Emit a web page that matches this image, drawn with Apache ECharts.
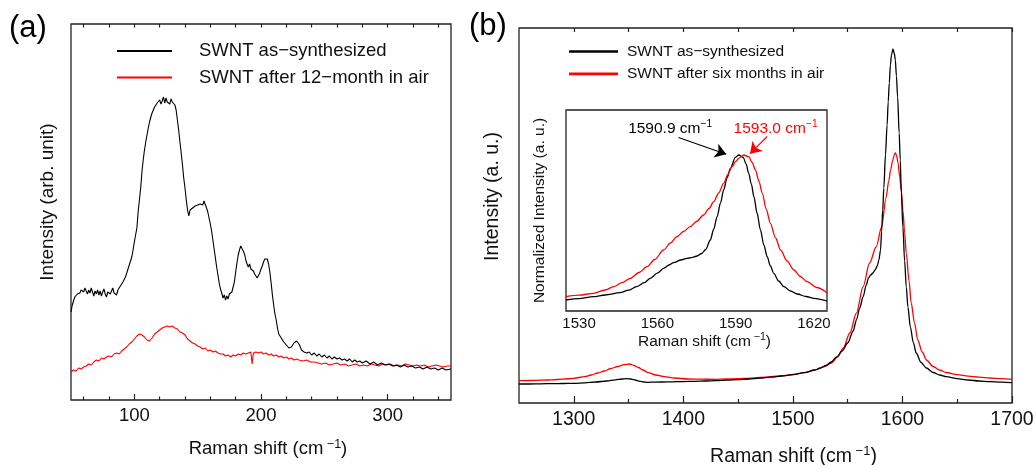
<!DOCTYPE html>
<html><head><meta charset="utf-8">
<script src="https://cdn.jsdelivr.net/npm/echarts@6/dist/echarts.min.js"></script>
<style>html,body{margin:0;padding:0;background:#fff}#c{width:1036px;height:465px}</style>
</head><body><div id="c"></div>
<script>
// ---------------- data ----------------
// Panel (a): RBM region
const aTickMajor = [100, 200, 300];
const aTickMinor = [60, 80, 120, 140, 160, 180, 220, 240, 260, 280, 320, 340];
const aNames = ['SWNT as\u2212synthesized', 'SWNT after 12\u2212month in air'];
const aBlack = [[50,88],[51,95],[52,99],[53,103],[54,104],[55,106],[56,108],[57,107],[58,110],[59,111],[60,108],[61,112],[62,109],[63,106],[64,110],[65,107],[66,112],[67,108],[68,104],[69,109],[70,106],[71,110],[72,105],[73,109],[74,104],[75,108],[76,111],[77,106],[78,103],[79,108],[80,110],[81,106],[82,109],[83,112],[84,107],[85,109],[86,105],[87,110],[88,112],[89,114],[90,116],[91,118],[92,120],[93,123],[94,127],[95,131],[96,135],[97,139],[98,143],[99,150],[100,158],[101,165],[102,172],[103,188],[104,200],[105,212],[106,228],[107,240],[108,250],[109,258],[110,265],[111,272],[112,278],[113,283],[114,287],[115,290],[116,293],[117,294],[118,297],[119,295],[120,300],[121,296],[122,299],[123,303],[124,297],[125,302],[126,298],[127,300],[128,296],[129,301],[130,298],[131,299],[132,295],[133,290],[134,280],[135,270],[136,258],[137,247],[138,235],[139,222],[140,212],[141,200],[142,190],[143,184],[144,190],[145,188],[146,192],[147,190],[148,194],[149,192],[150,195],[151,193],[152,196],[153,198],[154,195],[155,199],[156,197],[157,192],[158,188],[159,182],[160,176],[161,169],[162,160],[163,151],[164,142],[165,133],[166,125],[167,117],[168,111],[169,107],[170,102],[171,105],[172,100],[173,104],[174,101],[175,106],[176,104],[177,108],[178,110],[179,118],[180,128],[181,137],[182,145],[183,150],[184,154],[185,152],[186,149],[187,146],[188,140],[189,136],[190,133],[191,136],[192,131],[193,133],[194,129],[195,126],[196,127],[197,122],[198,124],[199,127],[200,131],[201,134],[202,138],[203,141],[204,143],[205,141],[206,136],[207,128],[208,117],[209,105],[210,95],[211,86],[212,80],[213,72],[214,66],[215,64],[216,62],[217,60],[218,58],[219,56],[220,55],[221,53],[222,52],[223,54],[224,53],[225,55],[226,57],[227,58],[228,59],[229,58],[230,56],[231,53],[232,50],[233,49],[234,48],[235,49],[236,47],[238,48],[240,45],[242,47],[244,44],[246,46],[248,43],[250,45],[252,42],[254,44],[256,41],[258,43],[260,41],[262,42],[264,40],[266,41],[268,39],[270,41],[272,38],[274,40],[276,38],[278,39],[280,37],[283,39],[286,36],[289,38],[292,35],[295,37],[298,35],[301,36],[304,34],[307,35],[310,33],[313,35],[316,33],[319,34],[322,32],[325,33],[328,31],[331,33],[334,31],[337,32],[340,30],[343,32],[346,30],[350,31]];
const aRed = [[50,28],[52,30],[54,29],[56,32],[58,31],[60,33],[62,34],[64,36],[66,35],[68,38],[70,40],[72,39],[74,42],[76,41],[78,43],[80,44],[82,43],[84,46],[86,47],[88,46],[90,49],[92,51],[94,53],[96,56],[98,58],[100,61],[102,64],[104,66],[106,65],[108,63],[110,60],[112,59],[114,62],[116,66],[118,68],[120,70],[122,72],[124,73],[126,74],[128,73],[130,74],[132,72],[134,71],[136,68],[138,67],[140,65],[142,61],[144,59],[146,57],[148,56],[150,54],[152,53],[154,51],[156,52],[158,49],[160,50],[162,48],[164,49],[166,47],[168,46],[170,46],[172,44],[174,45],[176,43],[178,45],[180,44],[182,46],[184,45],[186,47],[188,46],[190,47],[192,48],[193,36],[194,47],[196,48],[198,47],[200,48],[202,46],[204,47],[206,45],[208,46],[210,44],[212,45],[214,43],[216,44],[218,42],[220,43],[222,41],[224,42],[226,40],[228,41],[230,40],[233,39],[236,40],[239,38],[242,38],[245,37],[248,36],[251,37],[254,35],[257,36],[260,37],[263,35],[266,36],[269,34],[272,35],[275,36],[278,34],[281,35],[284,34],[287,36],[290,35],[293,34],[296,36],[299,35],[302,36],[305,34],[308,35],[311,34],[314,36],[317,35],[320,34],[323,35],[326,34],[329,35],[332,33],[335,34],[338,35],[341,34],[344,33],[347,34],[350,34]];

// Panel (b): D and G band region
const bTickMajor = [1300, 1400, 1500, 1600, 1700];
const bTickMinor = [1350, 1450, 1550, 1650];
const bNames = ['SWNT as\u2212synthesized', 'SWNT after six months in air'];
const bBlack = [[1250,19],[1260,19],[1270,19.2],[1280,19.4],[1290,19.5],[1300,19.7],[1310,20.2],[1320,21],[1330,22],[1338,23.2],[1344,24],[1348,24.3],[1352,24],[1356,23],[1360,21.8],[1364,21],[1367,20.6],[1370,20.8],[1380,21],[1390,21.2],[1400,21.4],[1410,21.7],[1420,22],[1430,22.4],[1440,22.9],[1450,23.4],[1460,24],[1470,24.8],[1480,25.8],[1490,27],[1500,28.4],[1510,30.3],[1520,33],[1525,35],[1530,37.5],[1535,41],[1540,46],[1545,52],[1550,60],[1555,72],[1558,83],[1561,95],[1564,106],[1567,118],[1569,125],[1571,128],[1573,130],[1575,133],[1577,137],[1578.5,143],[1580,153],[1581,172],[1582,193],[1583,215],[1584.5,248],[1586,278],[1587,301],[1588,320],[1589,338],[1590,348],[1591.3,354],[1592.5,350],[1593.5,343],[1594.5,327],[1595.6,306],[1597,270],[1598,243],[1599,210],[1600.4,176],[1602,142],[1603.5,116],[1605,96],[1607.2,76],[1610,60],[1612.6,50],[1617,40.5],[1621.8,35],[1628,30.5],[1634,28],[1640,26.3],[1650,24.3],[1660,23],[1670,22],[1680,21.3],[1690,20.8],[1700,20.3]];
const bRed = [[1250,22.3],[1260,22.5],[1270,22.8],[1280,23.2],[1290,23.8],[1300,24.7],[1310,26.3],[1316,28],[1322,30],[1328,32],[1334,34.5],[1340,36.5],[1346,38.3],[1351,39],[1355,37.5],[1359,35.5],[1363,33],[1368,30.3],[1375,28],[1383,26.3],[1392,25],[1404,24],[1416,23.8],[1429,23.7],[1440,24],[1450,24.3],[1459,24.7],[1470,25.5],[1480,26.3],[1490,27.3],[1500,28.5],[1511,30.3],[1520,32.8],[1529,36.3],[1535,40],[1541,46.3],[1546,55],[1552,70],[1558,90],[1564,116],[1570,140],[1576,156],[1581,176],[1585,205],[1587.5,222],[1589.2,233],[1591,242],[1592.5,248],[1593.5,250],[1594.5,248],[1596,240],[1597.5,226],[1599,212],[1600.5,192],[1602,170],[1603.5,150],[1606,122],[1608,100],[1611,80],[1614,63],[1618,51],[1622,43],[1628,36.5],[1634,33],[1640,30.5],[1650,28.3],[1660,26.8],[1670,25.8],[1680,25],[1690,24.3],[1700,23.7]];

// Inset: normalized G band
const iTickMajor = [1530, 1560, 1590, 1620];
const iTickMinor = [1540, 1550, 1570, 1580, 1600, 1610];
const iNames = ['inset as-synthesized', 'inset six months'];
const iPeakLabels = ['1590.9', '1593.0'];
const iBlack = [[1525,11],[1530,12.3],[1535.5,14.3],[1540,16],[1545.7,18.3],[1549,20.8],[1552,24.3],[1555,28.3],[1557.3,32.7],[1560,37.8],[1562.4,42.7],[1564.5,46],[1566.2,48.3],[1569,51],[1571.4,52.7],[1573.5,53.7],[1575.2,55],[1577,57.5],[1578.5,61.5],[1580.3,71],[1581.6,82],[1582.9,94.3],[1584.2,108],[1585.4,121],[1586.7,133],[1588,142.7],[1589.9,153.7],[1591.2,156],[1592.9,153.7],[1594,147],[1595,137.7],[1596,127],[1597,114.3],[1598.2,98],[1599.5,81],[1600.8,66],[1602.1,54.3],[1603.3,45],[1604.6,37.7],[1606.5,30],[1608.5,24.3],[1611,20],[1613.6,17],[1617,14.5],[1620,12.7],[1625,10]];
const iRed = [[1525,14.3],[1530,15.8],[1535.5,17.7],[1540,21],[1543.2,24.3],[1546.5,28.3],[1549.6,32.7],[1553,38.5],[1556,44.3],[1559,51.5],[1562.4,61],[1565,68],[1567.5,74.3],[1570,79.5],[1572.6,84.3],[1575,89.5],[1577.7,96],[1579.8,102.5],[1581.6,109.3],[1583.5,118],[1585.4,127.7],[1587,136.5],[1588.6,144.3],[1590,149.5],[1591.2,152.7],[1593.1,156],[1595,154.3],[1596.3,148.5],[1597.6,141],[1598.9,130],[1600.2,117.7],[1601.7,102],[1603.3,87.7],[1605.3,73],[1607.2,61],[1609.7,50],[1612.3,41],[1614.8,34.5],[1617.4,29.3],[1621,23.5],[1625,18.3]];

// ---------------- chart ----------------
const FONT = 'Liberation Sans, Arial, Helvetica, sans-serif';
const INK = '#111';
const RED = '#ff0000';
const chart = echarts.init(document.getElementById('c'), null, {renderer: 'canvas'});

function supName(main, size, supSize, shift) {
  return {
    text: '{t|' + main + '}{s| \u22121}{t|)}',
    style: {
      color: INK, fontFamily: FONT, fontSize: size, padding: [0, 0, 0, shift],
      rich: {
        t: {fontFamily: FONT, fontSize: size, color: INK, lineHeight: size + 2, verticalAlign: 'bottom'},
        s: {fontFamily: FONT, fontSize: supSize, color: INK, lineHeight: supSize, padding: [0, 0, size - supSize + 4, 0], verticalAlign: 'top'}
      }
    }
  };
}
const aX = supName('Raman shift (cm', 18.5, 12.5, 14);
const bX = supName('Raman shift (cm', 19.5, 13, 56);
const iX = supName('Raman shift (cm', 15.5, 10.5, 16);

const plain = v => String(v);
function xAxes(grid, min, max, major, minor, labelSize, labelMargin, majorLen, minorLen, nameObj, nameGap, topTicks) {
  const list = [
    {type: 'value', gridIndex: grid, min, max, position: 'bottom',
     axisLine: {show: false}, splitLine: {show: false},
     axisTick: {show: true, inside: true, length: majorLen, customValues: major, lineStyle: {color: '#222', width: 1.2}},
     axisLabel: {show: true, customValues: major, formatter: plain, color: INK, fontFamily: FONT, fontSize: labelSize, margin: labelMargin},
     name: nameObj.text, nameLocation: 'middle', nameGap: nameGap, nameTextStyle: nameObj.style},
    {type: 'value', gridIndex: grid, min, max, position: 'bottom',
     axisLine: {show: false}, splitLine: {show: false}, axisLabel: {show: false},
     axisTick: {show: true, inside: true, length: minorLen, customValues: minor, lineStyle: {color: '#222', width: 1.2}}}
  ];
  if (topTicks) {
    list.push({type: 'value', gridIndex: grid, min, max, position: 'top',
     axisLine: {show: false}, splitLine: {show: false}, axisLabel: {show: false},
     axisTick: {show: true, inside: true, length: minorLen, customValues: major.concat(minor), lineStyle: {color: '#222', width: 1.2}}});
  }
  return list;
}

const xAxis = [].concat(
  xAxes(0, 50, 350, aTickMajor, aTickMinor, 18.5, 6, 6, 3.5, aX, 38, true),
  xAxes(1, 1250, 1700, bTickMajor, bTickMinor, 19.5, 7, 7, 4, bX, 42, true),
  xAxes(2, 1525, 1625, iTickMajor, iTickMinor, 15, 5, 5, 3, iX, 17, false)
);
// indices: a: 0,1,2  b: 3,4,5  inset: 6,7

function yAxis(grid, max, name, size, gap, shift) {
  return {type: 'value', gridIndex: grid, min: 0, max: max,
    axisLine: {show: false}, axisTick: {show: false}, axisLabel: {show: false}, splitLine: {show: false},
    name: name, nameLocation: 'middle', nameGap: gap, nameRotate: 90,
    nameTextStyle: {color: INK, fontFamily: FONT, fontSize: size, padding: [0, 0, 0, shift]}};
}

function line(name, data, color, xi, yi, width, smooth, z) {
  return {type: 'line', name, data, xAxisIndex: xi, yAxisIndex: yi,
    symbol: 'none', showSymbol: false, color: color, smooth: smooth, smoothMonotone: 'x',
    lineStyle: {color: color, width: width}, itemStyle: {color: color}, z: z || 2, animation: false, silent: true};
}

const supRich = (size, color) => ({
  m: {fontFamily: FONT, fontSize: size, color: color, lineHeight: size + 2, verticalAlign: 'bottom'},
  s: {fontFamily: FONT, fontSize: size * 0.66, color: color, lineHeight: size * 0.66, padding: [0, 0, size * 0.5, 0], verticalAlign: 'top'}
});

function arrowLine(color, from, to) {
  return {silent: true, symbol: ['none', 'arrow'], symbolSize: 11, animation: false,
    lineStyle: {color: color, width: 1.1, type: 'solid'}, itemStyle: {color: color}, label: {show: false},
    emphasis: {disabled: true},
    data: [[{coord: from, symbol: 'none'}, {coord: to, symbol: 'arrow', symbolSize: 11, itemStyle: {color: color}}]]};
}

const iBlackSeries = line(iNames[0], iBlack, '#000', 6, 2, 1.3, 0.3, 10);
iBlackSeries.markLine = arrowLine('#000', [1568.1, 173.5], [1586.4, 156.8]);
iBlackSeries.markPoint = {silent: true, symbol: 'circle', symbolSize: 0, animation: false,
  data: [{coord: [1564.9, 183], label: {show: true, position: 'inside', formatter: '{m|' + iPeakLabels[0] + ' cm}{s|\u22121}', rich: supRich(15.5, '#000')}}]};

const iRedSeries = line(iNames[1], iRed, RED, 6, 2, 1.3, 0.3, 11);
iRedSeries.markLine = arrowLine(RED, [1602.1, 174.5], [1595.5, 157.3]);
iRedSeries.markPoint = {silent: true, symbol: 'circle', symbolSize: 0, animation: false,
  data: [{coord: [1605.3, 183], label: {show: true, position: 'inside', formatter: '{m|' + iPeakLabels[1] + ' cm}{s|\u22121}', rich: supRich(15.5, RED)}}]};

const gridBase = {show: true, borderColor: '#222', borderWidth: 1.3, containLabel: false, outerBoundsMode: 'none'};
const option = {
  backgroundColor: '#fff',
  animation: false,
  grid: [
    Object.assign({left: 71, top: 24, width: 380, height: 376, backgroundColor: 'transparent'}, gridBase),
    Object.assign({left: 519, top: 28, width: 493, height: 375, backgroundColor: 'transparent'}, gridBase),
    Object.assign({left: 566, top: 110, width: 261, height: 201, backgroundColor: '#fff', z: 5}, gridBase)
  ],
  xAxis: xAxis,
  yAxis: [
    yAxis(0, 376, 'Intensity (arb. unit)', 19, 14, 20),
    yAxis(1, 375, 'Intensity (a. u.)', 19.5, 16, 38),
    Object.assign(yAxis(2, 201, 'Normalized Intensity (a. u.)', 15.5, 18, 0), {z: 6})
  ],
  legend: [
    {left: 117, top: 40, orient: 'vertical', icon: 'rect', itemWidth: 55, itemHeight: 2.2, itemGap: 4.5,
     selectedMode: false, data: aNames, padding: 0,
     textStyle: {fontFamily: FONT, fontSize: 18.5, color: INK, lineHeight: 22, padding: [0, 0, 0, 22]}},
    {left: 569, top: 42.5, orient: 'vertical', icon: 'rect', itemWidth: 49, itemHeight: 2.7, itemGap: 4.3,
     selectedMode: false, data: bNames, padding: 0,
     textStyle: {fontFamily: FONT, fontSize: 15.5, color: INK, lineHeight: 18, padding: [0, 0, 0, 4]}}
  ],
  graphic: [
    {type: 'text', left: 9, top: 13, style: {text: '(a)', fontFamily: FONT, fontSize: 31, fill: '#000'}},
    {type: 'text', left: 469, top: 11, style: {text: '(b)', fontFamily: FONT, fontSize: 31, fill: '#000'}}
  ],
  series: [
    line(aNames[0], aBlack, '#000', 0, 0, 1.1, false, 3),
    line(aNames[1], aRed, RED, 0, 0, 1.1, false, 2),
    line(bNames[0], bBlack, '#000', 3, 1, 1.3, 0.3, 3),
    line(bNames[1], bRed, RED, 3, 1, 1.3, 0.3, 2),
    iBlackSeries,
    iRedSeries
  ]
};
chart.setOption(option);
</script>
</body></html>
